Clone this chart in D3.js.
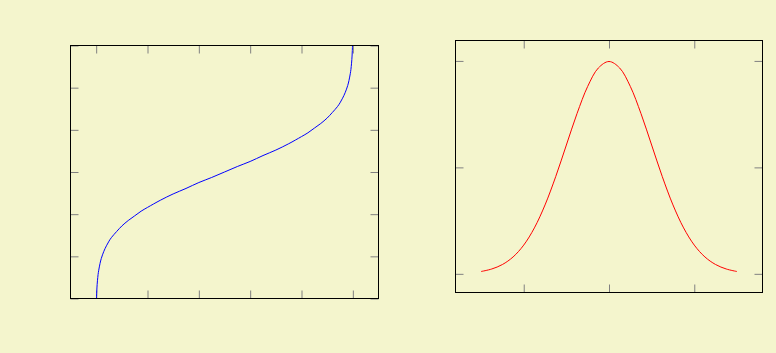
<!DOCTYPE html>
<html>
<head>
<meta charset="utf-8">
<script src="https://cdn.jsdelivr.net/npm/d3@7"></script>
<style>
  html, body { margin: 0; padding: 0; background: #f4f5cd; }
  svg { display: block; }
</style>
</head>
<body>
<svg id="chart" width="776" height="353"></svg>
<script>
// ---- Data ----
// Left panel: quantile curve (probability -> value)
const leftP = [0.00135, 0.002, 0.003, 0.005, 0.0075, 0.01, 0.015, 0.02, 0.03, 0.04, 0.05, 0.06, 0.08,
  0.1, 0.125, 0.15, 0.175, 0.2, 0.25, 0.3, 0.35, 0.4, 0.45, 0.5,
  0.55, 0.6, 0.65, 0.7, 0.75, 0.8, 0.825, 0.85, 0.875, 0.9, 0.92, 0.94, 0.95, 0.96, 0.97, 0.98, 0.985,
  0.99, 0.9925, 0.995, 0.997, 0.998, 0.99865];
const leftQ = [-3.00, -2.88, -2.75, -2.58, -2.43, -2.33, -2.17, -2.05, -1.88, -1.75, -1.64, -1.55, -1.41,
  -1.28, -1.15, -1.04, -0.93, -0.84, -0.67, -0.52, -0.39, -0.25, -0.13, 0.00,
  0.13, 0.25, 0.39, 0.52, 0.67, 0.84, 0.93, 1.04, 1.15, 1.28, 1.41, 1.55, 1.64, 1.75, 1.88, 2.05, 2.17,
  2.33, 2.43, 2.58, 2.75, 2.88, 3.00];
const leftXTicks = [0, 0.2, 0.4, 0.6, 0.8, 1.0];
const leftYTicks = [-3, -2, -1, 0, 1, 2, 3];

// Right panel: bell curve
const rightX = [-3, -2.75, -2.5, -2.25, -2, -1.75, -1.5, -1.25, -1, -0.75, -0.5, -0.25, 0,
  0.25, 0.5, 0.75, 1, 1.25, 1.5, 1.75, 2, 2.25, 2.5, 2.75, 3];
const rightY = [0.0044, 0.0091, 0.0175, 0.0317, 0.0540, 0.0863, 0.1295, 0.1826, 0.2420, 0.3011, 0.3521, 0.3867, 0.3989,
  0.3867, 0.3521, 0.3011, 0.2420, 0.1826, 0.1295, 0.0863, 0.0540, 0.0317, 0.0175, 0.0091, 0.0044];
const rightXTicks = [-2, 0, 2];
const rightYTicks = [0, 0.2, 0.4];

// ---- Drawing ----
const svg = d3.select("#chart");
const TICK = 8;

function enlarge(ext, f) {
  const d = (ext[1] - ext[0]) * f;
  return [ext[0] - d, ext[1] + d];
}

function panel(opts) {
  const { left, right, top, bottom, xDomain, yDomain, xs, ys, xTicks, yTicks, color, id } = opts;
  const x = d3.scaleLinear().domain(xDomain).range([left, right]);
  const y = d3.scaleLinear().domain(yDomain).range([bottom, top]);
  const g = svg.append("g");

  g.append("clipPath").attr("id", id).append("rect")
    .attr("x", left).attr("y", top).attr("width", right - left).attr("height", bottom - top);

  const style = sel => {
    sel.select(".domain").remove();
    sel.selectAll(".tick line").attr("stroke", "#808080").attr("stroke-width", 1);
    sel.selectAll(".tick text").remove();
  };
  g.append("g").attr("transform", `translate(0,${bottom})`)
    .call(d3.axisBottom(x).tickValues(xTicks).tickSize(-TICK).tickFormat("")).call(style);
  g.append("g").attr("transform", `translate(0,${top})`)
    .call(d3.axisTop(x).tickValues(xTicks).tickSize(-TICK).tickFormat("")).call(style);
  g.append("g").attr("transform", `translate(${left},0)`)
    .call(d3.axisLeft(y).tickValues(yTicks).tickSize(-TICK).tickFormat("")).call(style);
  g.append("g").attr("transform", `translate(${right},0)`)
    .call(d3.axisRight(y).tickValues(yTicks).tickSize(-TICK).tickFormat("")).call(style);

  const line = d3.line().x((d, i) => x(xs[i])).y((d, i) => y(ys[i])).curve(d3.curveCatmullRom.alpha(0.5));
  g.append("path").datum(xs)
    .attr("d", line)
    .attr("fill", "none")
    .attr("stroke", color)
    .attr("stroke-width", 1)
    .attr("clip-path", `url(#${id})`);

  g.append("rect")
    .attr("x", left).attr("y", top).attr("width", right - left).attr("height", bottom - top)
    .attr("fill", "none").attr("stroke", "#000").attr("stroke-width", 1);
}

panel({
  id: "clipL",
  left: 70.5, right: 378.5, top: 45.5, bottom: 298.5,
  xDomain: enlarge([0, 1], 0.1), yDomain: [-3, 3],
  xs: leftP, ys: leftQ, xTicks: leftXTicks, yTicks: leftYTicks, color: "#0000ff"
});

panel({
  id: "clipR",
  left: 455.5, right: 762.5, top: 40.5, bottom: 292.5,
  xDomain: enlarge(d3.extent(rightX), 0.1), yDomain: enlarge(d3.extent(rightY), 0.1),
  xs: rightX, ys: rightY, xTicks: rightXTicks, yTicks: rightYTicks, color: "#ff0000"
});
</script>
</body>
</html>
